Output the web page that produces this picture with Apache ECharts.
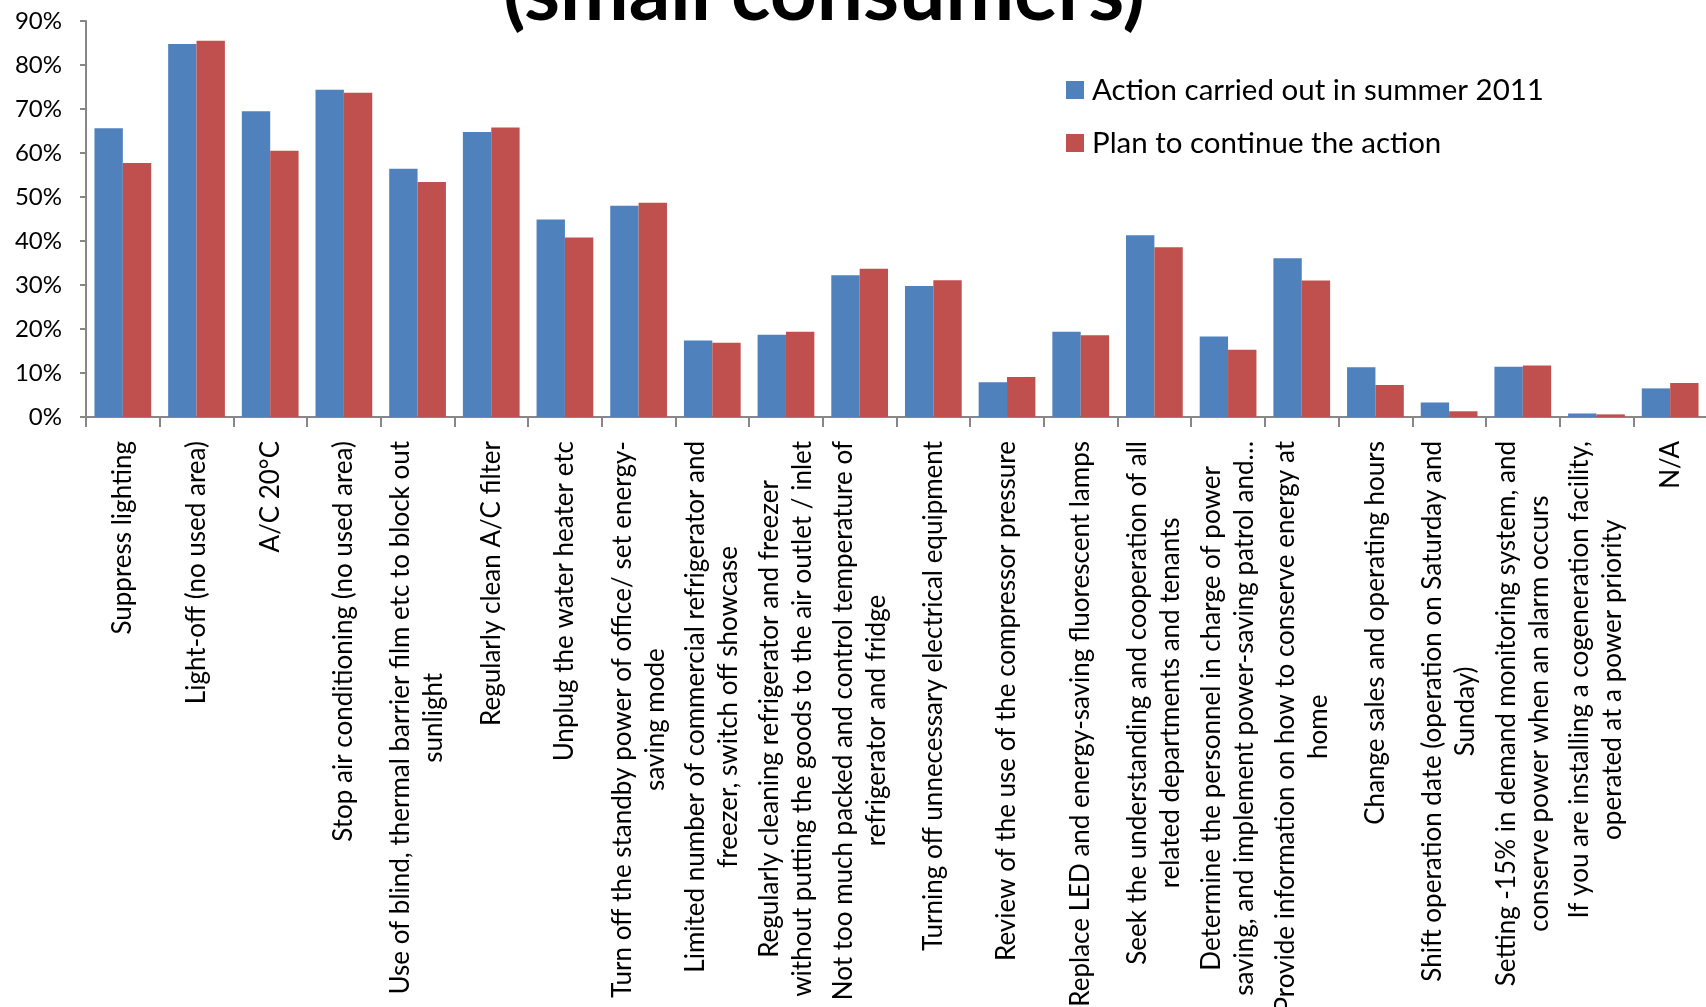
<!DOCTYPE html>
<html>
<head>
<meta charset="utf-8">
<title>Energy-saving actions (small consumers)</title>
<script src="https://cdn.jsdelivr.net/npm/echarts@6/dist/echarts.min.js"></script>
<style>
  html, body { margin: 0; padding: 0; background: #ffffff; }
  #chart { width: 1706px; height: 1007px; }
</style>
</head>
<body>
<div id="chart"></div>
<script>
// Energy-saving actions taken by small consumers, share of respondents (%)
const categories = [
  'Suppress lighting',
  'Light-off (no used area)',
  'A/C 20°C',
  'Stop air conditioning (no used area)',
  'Use of blind, thermal barrier film etc to block out\nsunlight',
  'Regularly clean A/C filter',
  'Unplug the water heater etc',
  'Turn off the standby power of office/ set energy-\nsaving mode',
  'Limited number of commercial refrigerator and\nfreezer, switch off showcase',
  'Regularly cleaning refrigerator and freezer\nwithout putting the goods to the air outlet / inlet',
  'Not too much packed and control temperature of\nrefrigerator and fridge',
  'Turning off unnecessary electrical equipment',
  'Review of the use of the compressor pressure',
  'Replace LED and energy-saving fluorescent lamps',
  'Seek the understanding and cooperation of all\nrelated departments and tenants',
  'Determine the personnel in charge of power\nsaving, and implement power-saving patrol and…',
  'Provide information on how to conserve energy at\nhome',
  'Change sales and operating hours',
  'Shift operation date (operation on Saturday and\nSunday)',
  'Setting -15% in demand monitoring system, and\nconserve power when an alarm occurs',
  'If you are installing a cogeneration facility,\noperated at a power priority',
  'N/A'
];

const carriedOut2011 = [65.6, 84.8, 69.5, 74.4, 56.4, 64.8, 44.9, 48.0, 17.4, 18.7, 32.2,
                        29.8, 7.9, 19.4, 41.3, 18.3, 36.1, 11.3, 3.3, 11.4, 0.8, 6.5];
const planToContinue = [57.7, 85.5, 60.5, 73.7, 53.4, 65.8, 40.8, 48.7, 16.9, 19.4, 33.7,
                        31.1, 9.1, 18.6, 38.6, 15.3, 31.0, 7.3, 1.3, 11.7, 0.6, 7.7];

const seriesNames = ['Action carried out in summer 2011', 'Plan to continue the action'];
const yTicks = { min: 0, max: 90, step: 10 };
const titleText = '(small consumers)';

const FONT = 'Lato, "Open Sans", sans-serif';
const AXIS_GREY = '#878787';

const chart = echarts.init(document.getElementById('chart'), null, { renderer: 'canvas' });

chart.setOption({
  backgroundColor: '#ffffff',
  animation: false,
  color: ['#4F81BD', '#C0504D'],
  graphic: [{
    type: 'text',
    x: 824,
    y: -6,
    silent: true,
    style: {
      text: titleText,
      fontFamily: FONT,
      fontWeight: 'bold',
      fontSize: 82,
      fill: '#000000',
      align: 'center',
      verticalAlign: 'middle'
    }
  }],
  legend: {
    orient: 'vertical',
    left: 1066,
    top: 75,
    padding: 0,
    itemWidth: 18,
    itemHeight: 18,
    itemGap: 23,
    icon: 'rect',
    selectedMode: false,
    textStyle: {
      fontFamily: FONT,
      fontSize: 29.5,
      lineHeight: 30,
      color: '#000000',
      padding: [0, 0, 0, 3]
    },
    data: seriesNames
  },
  grid: {
    left: 86,
    top: 21,
    width: 1621,
    height: 396,
    containLabel: false,
    outerBoundsMode: 'none'
  },
  xAxis: {
    type: 'category',
    data: categories,
    axisLine: { lineStyle: { color: AXIS_GREY, width: 2 } },
    axisTick: { show: true, length: 10, lineStyle: { color: AXIS_GREY, width: 2 } },
    axisLabel: {
      interval: 0,
      rotate: 90,
      margin: 24,
      hideOverlap: false,
      color: '#000000',
      fontFamily: FONT,
      fontSize: 26,
      lineHeight: 33,
      formatter: function (v) {
        return v.split('\n').map(function (s) { return '{c|' + s + '}'; }).join('\n');
      },
      rich: {
        c: { align: 'center', fontFamily: FONT, fontSize: 26, lineHeight: 33, color: '#000000' }
      }
    },
    splitLine: { show: false }
  },
  yAxis: {
    type: 'value',
    min: yTicks.min,
    max: yTicks.max,
    interval: yTicks.step,
    axisLine: { show: true, lineStyle: { color: AXIS_GREY, width: 2 } },
    axisTick: { show: true, length: 6, lineStyle: { color: AXIS_GREY, width: 2 } },
    axisLabel: {
      margin: 24,
      color: '#000000',
      fontFamily: FONT,
      fontSize: 24,
      formatter: '{value}%'
    },
    splitLine: { show: false }
  },
  series: [
    {
      name: seriesNames[0],
      type: 'bar',
      data: carriedOut2011,
      barGap: '0%',
      barCategoryGap: '23%'
    },
    {
      name: seriesNames[1],
      type: 'bar',
      data: planToContinue,
      barGap: '0%',
      barCategoryGap: '23%'
    }
  ]
});
</script>
</body>
</html>
